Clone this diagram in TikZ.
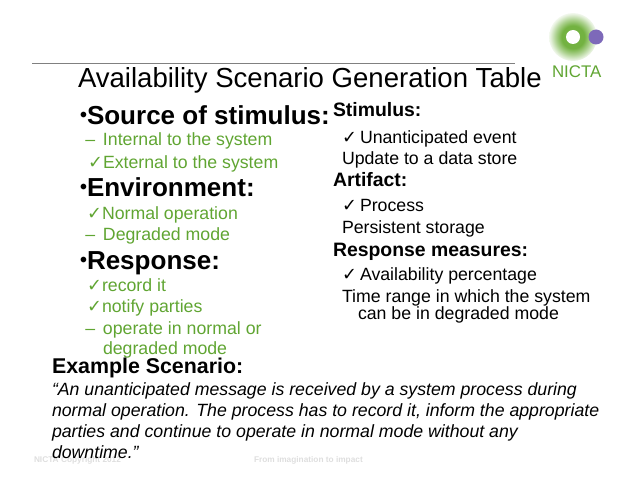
\documentclass[tikz,border=0pt]{standalone}
\usepackage{fontspec}
\setmainfont{Liberation Sans}
\newfontfamily\checkfont{DejaVu Sans}
\definecolor{slidegreen}{RGB}{96,165,50}
\definecolor{glowgreen}{RGB}{115,178,65}
\definecolor{logopurple}{RGB}{125,105,185}
\definecolor{footgray}{RGB}{222,222,222}
\newcommand{\tick}{{\checkfont\char"2713}}
\newcommand{\dotmark}{\llap{\fontsize{14}{14}\selectfont\raisebox{1.5pt}{•}}}
\pgfdeclareradialshading{logoglow}{\pgfpointorigin}{color(0bp)=(glowgreen); color(12bp)=(glowgreen); color(18bp)=(glowgreen!60!white); color(24bp)=(glowgreen!15!white); color(27bp)=(white); color(50bp)=(white)}
\tikzset{
  line/.style={anchor=base west,inner sep=0pt,outer sep=0pt},
  titletext/.style={line,font=\fontsize{19.6}{20}\selectfont},
  headtext/.style={line,font=\fontsize{18.5}{20}\selectfont\bfseries},
  greentext/.style={line,text=slidegreen,font=\fontsize{12.6}{14}\selectfont},
  sidehead/.style={line,font=\fontsize{13.8}{15}\selectfont\bfseries},
  sidetext/.style={line,font=\fontsize{12.6}{14}\selectfont},
  quotetext/.style={line,font=\fontsize{12.6}{14}\selectfont\itshape},
  foottext/.style={line,text=footgray,font=\fontsize{5.9}{6}\selectfont\bfseries}
}
\begin{document}
\begin{tikzpicture}[x=0.025cm,y=-0.025cm]
  \useasboundingbox (0,0) rectangle (638,479);
  % top rule and logo
  \draw[gray,line width=0.5pt] (32,63) -- (515,63);
  \shade[shading=logoglow] (573,37) circle (24);
  \fill[white] (573,37) circle (7);
  \fill[logopurple] (596,37) circle (7.5);
  \node[line,text=slidegreen,font=\fontsize{12}{13}\selectfont] (logo) at (552,77) {NICTA};
  % footer
  \node[foottext] (footleft) at (34,462) {NICTA Copyright 2012};
  \node[foottext] (footmid) at (254,462) {From imagination to impact};
  \node[titletext] (title) at (78,88) {Availability Scenario Generation Table};
  % left column
  \node[headtext] (source) at (87,124) {\dotmark Source of stimulus:};
  \node[greentext] (internal) at (103,146) {\llap{– \,}Internal to the system};
  \node[greentext] (external) at (103,168) {\llap{\tick}External to the system};
  \node[headtext] (environment) at (87,196) {\dotmark Environment:};
  \node[greentext] (normal) at (102,219) {\llap{\tick}Normal operation};
  \node[greentext] (degraded) at (103,240) {\llap{– \,}Degraded mode};
  \node[headtext] (response) at (87,269) {\dotmark Response:};
  \node[greentext] (record) at (102,291) {\llap{\tick}record it};
  \node[greentext] (notify) at (102,312) {\llap{\tick}notify parties};
  \node[greentext] (operate) at (103,334) {\llap{– \,}operate in normal or};
  \node[greentext] (degradedtwo) at (103,354) {degraded mode};
  % right column
  \node[sidehead] (stimulus) at (333,117) {Stimulus:};
  \node[sidetext] (unanticipated) at (360,143) {\llap{\tick\,}Unanticipated event};
  \node[sidetext] (update) at (342,164) {Update to a data store};
  \node[sidehead] (artifact) at (333,186) {Artifact:};
  \node[sidetext] (process) at (360,211) {\llap{\tick\,}Process};
  \node[sidetext] (persistent) at (342,233) {Persistent storage};
  \node[sidehead] (measures) at (333,256) {Response measures:};
  \node[sidetext] (percentage) at (360,280) {\llap{\tick\,}Availability percentage};
  \node[sidetext] (timerange) at (342,302) {Time range in which the system};
  \node[sidetext] (canbe) at (358,319) {can be in degraded mode};
  % example at the bottom
  \node[line,font=\fontsize{15.2}{16}\selectfont\bfseries] (example) at (52,373) {Example Scenario:};
  \node[quotetext] (quotea) at (52,395) {“An unanticipated message is received by a system process during};
  \node[quotetext] (quoteb) at (52,416) {normal operation. The process has to record it, inform the appropriate};
  \node[quotetext] (quotec) at (52,437) {parties and continue to operate in normal mode without any};
  \node[quotetext] (quoted) at (52,458) {downtime.”};
\end{tikzpicture}
\end{document}
